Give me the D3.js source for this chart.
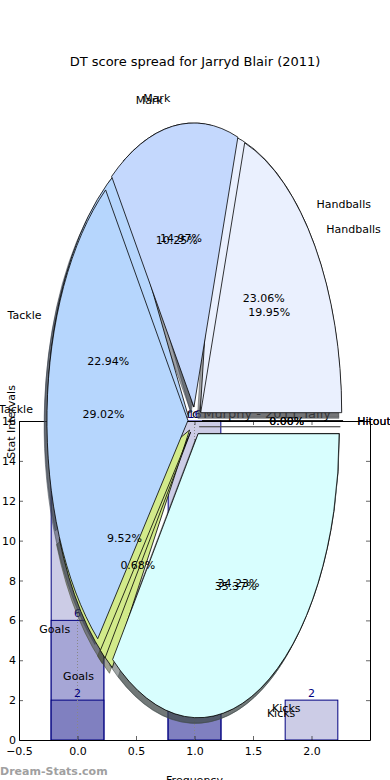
<!DOCTYPE html>
<html>
<head>
<meta charset="utf-8">
<script src="https://cdn.jsdelivr.net/npm/d3@7"></script>
<style>
  body { margin: 0; background: #fff; }
  svg { display: block; font-family: "DejaVu Sans", sans-serif; }
</style>
</head>
<body>
<svg id="chart"></svg>
<script>
// pie data (two pies drawn on the same axes)
const categories = ['Handballs', 'Mark', 'Tackle', 'Goals', 'Kicks', 'Hitout'];
const blairPct = [23.06, 10.25, 22.94, 9.52, 34.23, 0.00];
const murphyPct = [19.95, 14.97, 29.02, 0.68, 35.37, 0.00];
const sliceColors = ['#eaf0fe', '#c4d8fd', '#b6d6fd', '#d2ea8a', '#d8fefe', '#ffffff'];

// bar data (overlaid series)
const barX = [0, 1, 2];
const barLight = [16, 16, 2];
const barMid = [6, 9, 0];
const barDark = [2, 4, 0];
const stemX = [0, 1];
const stemTop = [6.35, 16];
const xTicks = [-0.5, 0, 0.5, 1, 1.5, 2];
const yTicks = [0, 2, 4, 6, 8, 10, 12, 14, 16];

const width = 390, height = 780;
const svg = d3.select('#chart').attr('width', width).attr('height', height);

// ---------- bar axes (drawn first, sits under the pies) ----------
const bx = d3.scaleLinear().domain([-0.5, 2.5]).range([19, 370]);
const by = d3.scaleLinear().domain([0, 16]).range([740, 421]);
const barW = 0.45;

const barG = svg.append('g');

barG.append('text')
    .attr('x', 331).attr('y', 418)
    .attr('text-anchor', 'end')
    .attr('font-size', 13)
    .text('Marc Murphy - 2011 Tally');

const series = [
    { vals: barLight, fill: '#ccccE6' },
    { vals: barMid, fill: '#a6a6d6' },
    { vals: barDark, fill: '#8080c0' }
];
series.forEach(s => {
    barG.selectAll(null)
        .data(barX.map((x, i) => ({ x: x, v: s.vals[i] })).filter(d => d.v > 0))
        .enter()
        .append('rect')
        .attr('x', d => bx(d.x - barW / 2))
        .attr('width', d => bx(barW) - bx(0))
        .attr('y', d => by(d.v))
        .attr('height', d => by(0) - by(d.v))
        .attr('fill', s.fill)
        .attr('stroke', '#000080')
        .attr('stroke-width', 1);
});

// dotted stems
barG.selectAll(null)
    .data(stemX.map((x, i) => ({ x: x, v: stemTop[i] })))
    .enter()
    .append('line')
    .attr('x1', d => bx(d.x)).attr('x2', d => bx(d.x))
    .attr('y1', by(0)).attr('y2', d => by(d.v))
    .attr('stroke', '#888')
    .attr('stroke-dasharray', '1,2');

// value labels on bars
series.forEach(s => {
    barG.selectAll(null)
        .data(barX.map((x, i) => ({ x: x, v: s.vals[i] })).filter(d => d.v > 0))
        .enter()
        .append('text')
        .attr('x', d => bx(d.x))
        .attr('y', d => by(d.v) - 3)
        .attr('text-anchor', 'middle')
        .attr('font-size', 11)
        .attr('fill', '#000080')
        .text(d => d.v);
});

// axes with inward ticks, matplotlib style
const xAxis = barG.append('g')
    .attr('transform', `translate(0,${by(0)})`)
    .call(d3.axisBottom(bx).tickValues(xTicks).tickFormat(d3.format('.1f'))
        .tickSizeInner(-4).tickSizeOuter(0).tickPadding(7));
const yAxis = barG.append('g')
    .attr('transform', `translate(${bx(-0.5)},0)`)
    .call(d3.axisLeft(by).tickValues(yTicks).tickSizeInner(-4).tickSizeOuter(0).tickPadding(3));
barG.append('g')
    .attr('transform', `translate(0,${by(16)})`)
    .call(d3.axisTop(bx).tickValues(xTicks).tickFormat('').tickSizeInner(-4).tickSizeOuter(0));
barG.append('g')
    .attr('transform', `translate(${bx(2.5)},0)`)
    .call(d3.axisRight(by).tickValues(yTicks).tickFormat('').tickSizeInner(-4).tickSizeOuter(0));

barG.selectAll('.tick text')
    .attr('font-size', 11)
    .attr('font-family', '"DejaVu Sans", sans-serif')
    .attr('fill', '#000');
barG.selectAll('.tick line').attr('stroke', '#000').attr('stroke-width', 0.6);
barG.selectAll('.domain').attr('stroke', '#000').attr('stroke-width', 1);

barG.append('text')
    .attr('transform', 'translate(15,422) rotate(-90)')
    .attr('text-anchor', 'middle')
    .attr('font-size', 11)
    .text('Stat Intervals');

barG.append('text')
    .attr('x', 194.5).attr('y', 784)
    .attr('text-anchor', 'middle')
    .attr('font-size', 11)
    .text('Frequency');

// ---------- pie axes (transparent, on top) ----------
const cx = 195, cy = 421, rx = 141, ry = 284;
const explode = 0.05;

const pieGen = d3.pie().sort(null).value(d => d)
    .startAngle(Math.PI / 2).endAngle(Math.PI / 2 - 2 * Math.PI);
const arc = d3.arc().innerRadius(0).outerRadius(rx);

function layout(values) {
    return pieGen(values).map((d, i) => {
        const theta = Math.PI / 2 - (d.startAngle + d.endAngle) / 2; // matplotlib angle
        return {
            arc: d, cat: categories[i], pct: values[i], color: sliceColors[i],
            cos: Math.cos(theta), sin: Math.sin(theta),
            ox: explode * rx * Math.cos(theta), oy: -explode * ry * Math.sin(theta)
        };
    });
}
const pies = [layout(blairPct), layout(murphyPct)];

const pieG = svg.append('g');

// shadows of both pies come first
pies.forEach(p => {
    pieG.selectAll(null)
        .data(p)
        .enter()
        .append('path')
        .attr('transform', d => `translate(${cx + d.ox - 0.02 * rx},${cy + d.oy + 0.02 * ry}) scale(1,${ry / rx})`)
        .attr('d', d => arc(d.arc))
        .attr('fill', d => { const c = d3.rgb(d.color); return d3.rgb(c.r * 0.3, c.g * 0.3, c.b * 0.3); })
        .attr('fill-opacity', 0.5)
        .attr('stroke', d => { const c = d3.rgb(d.color); return d3.rgb(c.r * 0.3, c.g * 0.3, c.b * 0.3); })
        .attr('stroke-opacity', 0.5)
        .attr('vector-effect', 'non-scaling-stroke');
});

// wedges
pies.forEach(p => {
    pieG.selectAll(null)
        .data(p)
        .enter()
        .append('path')
        .attr('transform', d => `translate(${cx + d.ox},${cy + d.oy}) scale(1,${ry / rx})`)
        .attr('d', d => arc(d.arc))
        .attr('fill', d => d.color)
        .attr('stroke', '#000')
        .attr('stroke-width', 0.8)
        .attr('vector-effect', 'non-scaling-stroke');
});

// labels and percentages
pies.forEach(p => {
    p.forEach(d => {
        pieG.append('text')
            .attr('x', cx + d.ox + 1.1 * rx * d.cos)
            .attr('y', cy + d.oy - 1.1 * ry * d.sin)
            .attr('text-anchor', d.cos < 0 ? 'end' : 'start')
            .attr('dominant-baseline', 'central')
            .attr('font-size', 11)
            .text(d.cat);
        pieG.append('text')
            .attr('x', cx + d.ox + 0.6 * rx * d.cos)
            .attr('y', cy + d.oy - 0.6 * ry * d.sin)
            .attr('text-anchor', 'middle')
            .attr('dominant-baseline', 'central')
            .attr('font-size', 11)
            .text(d.pct.toFixed(2) + '%');
    });
});

svg.append('text')
    .attr('x', 195).attr('y', 66)
    .attr('text-anchor', 'middle')
    .attr('font-size', 13)
    .text('DT score spread for Jarryd Blair (2011)');

svg.append('text')
    .attr('x', 0).attr('y', 775)
    .attr('font-size', 11)
    .attr('font-weight', 'bold')
    .attr('fill', '#a0a0a0')
    .text('Dream-Stats.com');
</script>
</body>
</html>
